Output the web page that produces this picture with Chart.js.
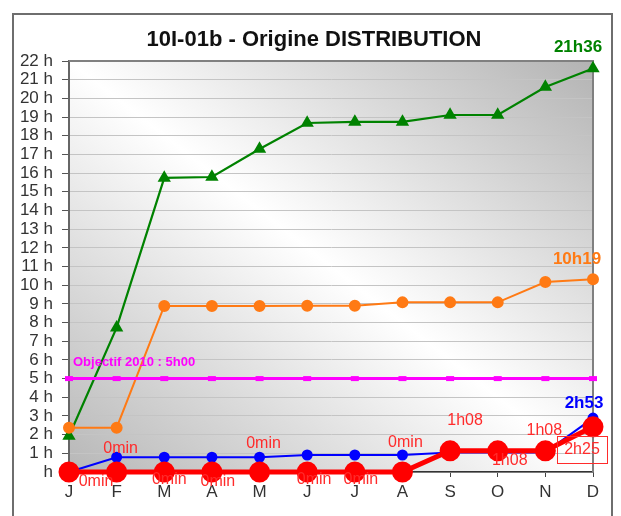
<!DOCTYPE html>
<html>
<head>
<meta charset="utf-8">
<script src="https://cdn.jsdelivr.net/npm/chart.js@4.4.1/dist/chart.umd.min.js"></script>
<style>
  html, body { margin: 0; padding: 0; background: #ffffff; }
  #wrap { width: 621px; height: 516px; }
</style>
</head>
<body>
<div id="wrap"><canvas id="c" width="621" height="516"></canvas></div>
<script>
// ---- data ----
const months = ['J', 'F', 'M', 'A', 'M', 'J', 'J', 'A', 'S', 'O', 'N', 'D'];
const hourTicks = [' h', '1 h', '2 h', '3 h', '4 h', '5 h', '6 h', '7 h', '8 h', '9 h', '10 h', '11 h',
  '12 h', '13 h', '14 h', '15 h', '16 h', '17 h', '18 h', '19 h', '20 h', '21 h', '22 h'];
const distribution = [0, 0, 0, 0, 0, 0, 0, 0, 1.134, 1.134, 1.134, 2.417];
const totalGreen = [1.93, 7.73, 15.74, 15.79, 17.29, 18.68, 18.74, 18.74, 19.11, 19.11, 20.61, 21.6];
const totalOrange = [2.37, 2.37, 8.89, 8.89, 8.89, 8.9, 8.9, 9.08, 9.08, 9.08, 10.17, 10.317];
const totalBlue = [0, 0.79, 0.79, 0.79, 0.79, 0.91, 0.91, 0.91, 1.05, 1.05, 1.05, 2.884];
const objectif = [5, 5, 5, 5, 5, 5, 5, 5, 5, 5, 5, 5];
const objectifText = 'Objectif 2010 : ';
const chartTitle = '10I-01b - Origine DISTRIBUTION';

const FONT = "'Liberation Sans', Arial, sans-serif";

function fmtHours(v) {
  if (v === 0) return '0min';
  const h = Math.floor(v);
  const m = Math.round((v - h) * 60);
  return h + 'h' + (m < 10 ? '0' + m : m);
}

const frameAndBackground = {
  id: 'frameAndBackground',
  beforeDraw(chart) {
    const ctx = chart.ctx;
    const a = chart.chartArea;
    ctx.save();
    ctx.fillStyle = '#ffffff';
    ctx.fillRect(0, 0, chart.width, chart.height);
    // outer border
    ctx.strokeStyle = '#6e6e6e';
    ctx.lineWidth = 2;
    ctx.strokeRect(13, 14, 599, 530);
    // title
    ctx.fillStyle = '#111111';
    ctx.font = 'bold 22px ' + FONT;
    ctx.textAlign = 'center';
    ctx.textBaseline = 'middle';
    ctx.fillText(chartTitle, 314, 40);
    // diagonal gradient of the plot area
    const cx = (a.left + a.right) / 2, cy = (a.top + a.bottom) / 2;
    const w = a.right - a.left, h = a.bottom - a.top;
    const nx = h, ny = -w;
    const n2 = nx * nx + ny * ny;
    const t = ((a.left - cx) * nx + (a.bottom - cy) * ny) / n2;
    const g = ctx.createLinearGradient(cx + t * nx, cy + t * ny, cx - t * nx, cy - t * ny);
    g.addColorStop(0, '#b7b7b7');
    g.addColorStop(0.5, '#ffffff');
    g.addColorStop(1, '#b3b3b3');
    ctx.fillStyle = g;
    ctx.fillRect(a.left, a.top, w, h);
    ctx.restore();
  },
  beforeDatasetsDraw(chart) {
    const ctx = chart.ctx;
    const a = chart.chartArea;
    ctx.save();
    ctx.strokeStyle = '#808080';
    ctx.lineWidth = 2;
    ctx.beginPath();
    ctx.moveTo(a.left, a.top);
    ctx.lineTo(a.right, a.top);
    ctx.lineTo(a.right, a.bottom);
    ctx.stroke();
    ctx.restore();
  }
};

const valueLabels = {
  id: 'valueLabels',
  afterDatasetsDraw(chart, args, opts) {
    const ctx = chart.ctx;
    ctx.save();
    ctx.textBaseline = 'middle';
    (opts.sets || []).forEach(set => {
      const meta = chart.getDatasetMeta(set.dataset);
      const data = chart.data.datasets[set.dataset].data;
      ctx.font = set.font;
      ctx.fillStyle = set.color;
      ctx.textAlign = set.align || 'center';
      set.items.forEach(it => {
        const el = meta.data[it.index];
        const x = el.x + it.dx, y = el.y + it.dy;
        const txt = (set.prefix || '') + fmtHours(data[it.index]);
        ctx.fillText(txt, x, y);
        if (it.box) {
          const tw = ctx.measureText(txt).width;
          ctx.strokeStyle = set.color;
          ctx.lineWidth = 1;
          ctx.strokeRect(Math.round(x - tw / 2 - 7) + 0.5, Math.round(y - 14) + 0.5, Math.round(tw + 14), 27);
        }
      });
    });
    ctx.restore();
  }
};

const ctx = document.getElementById('c').getContext('2d');
new Chart(ctx, {
  type: 'line',
  data: {
    labels: months,
    datasets: [
      {
        label: 'Distribution',
        data: distribution,
        borderColor: '#ff0000',
        backgroundColor: '#ff0000',
        borderWidth: 5,
        pointRadius: 8,
        pointStyle: 'circle',
        tension: 0,
        clip: false
      },
      {
        label: 'Bleu',
        data: totalBlue,
        borderColor: '#0000ff',
        backgroundColor: '#0000ff',
        borderWidth: 2,
        pointRadius: 4.5,
        pointStyle: 'circle',
        tension: 0,
        clip: false
      },
      {
        label: 'Objectif',
        data: objectif,
        borderColor: '#ff00ff',
        backgroundColor: '#ff00ff',
        borderWidth: 3,
        pointStyle: 'line',
        pointRadius: 4,
        pointBorderWidth: 5,
        tension: 0,
        clip: false
      },
      {
        label: 'Orange',
        data: totalOrange,
        borderColor: '#ff7a14',
        backgroundColor: '#ff7a14',
        borderWidth: 2,
        pointRadius: 5,
        pointStyle: 'circle',
        tension: 0,
        clip: false
      },
      {
        label: 'Vert',
        data: totalGreen,
        borderColor: '#008200',
        backgroundColor: '#008200',
        borderWidth: 2.2,
        pointRadius: 5.5,
        pointStyle: 'triangle',
        tension: 0,
        clip: false
      }
    ]
  },
  options: {
    responsive: false,
    animation: false,
    devicePixelRatio: 1,
    events: [],
    layout: { padding: { left: 0, right: 28, top: 61, bottom: 0 } },
    scales: {
      x: {
        type: 'category',
        offset: false,
        afterFit(scale) { scale.height = 44; },
        grid: { drawOnChartArea: false, drawTicks: true, tickLength: 5, tickColor: '#444', tickWidth: 1 },
        border: { display: true, color: '#333333', width: 1.5 },
        ticks: { color: '#333333', font: { family: FONT, size: 17 }, padding: 5, autoSkip: false, maxRotation: 0 }
      },
      y: {
        min: 0,
        max: 22,
        afterFit(scale) { scale.width = 69; },
        grid: { color: '#c4c4c4', lineWidth: 1, tickLength: 7, tickColor: '#555555', tickWidth: 1 },
        border: { display: true, color: '#666666', width: 2 },
        ticks: {
          stepSize: 1,
          autoSkip: false,
          color: '#333333',
          padding: 9,
          font: { family: FONT, size: 17 },
          callback: (v) => hourTicks[v]
        }
      }
    },
    plugins: {
      legend: { display: false },
      tooltip: { enabled: false },
      title: { display: false },
      valueLabels: {
        sets: [
          {
            dataset: 0, font: '16px ' + FONT, color: '#ff2b2b',
            items: [
              { index: 0, dx: 27, dy: 10 }, { index: 1, dx: 4, dy: -23 },
              { index: 2, dx: 5, dy: 8 }, { index: 3, dx: 6, dy: 10 },
              { index: 4, dx: 4, dy: -28 }, { index: 5, dx: 7, dy: 8 },
              { index: 6, dx: 6, dy: 8 }, { index: 7, dx: 3, dy: -29 },
              { index: 8, dx: 15, dy: -30 }, { index: 9, dx: 12, dy: 10 },
              { index: 10, dx: -1, dy: -20 }, { index: 11, dx: -11, dy: 23, box: true }
            ]
          },
          { dataset: 4, font: 'bold 17px ' + FONT, color: '#008200', items: [{ index: 11, dx: -15, dy: -21 }] },
          { dataset: 3, font: 'bold 17px ' + FONT, color: '#ff7a14', items: [{ index: 11, dx: -16, dy: -20 }] },
          { dataset: 1, font: 'bold 17px ' + FONT, color: '#0000ff', items: [{ index: 11, dx: -9, dy: -15 }] },
          { dataset: 2, font: 'bold 13px ' + FONT, color: '#ff00ff', align: 'left', prefix: objectifText,
            items: [{ index: 0, dx: 4, dy: -16 }] }
        ]
      }
    }
  },
  plugins: [frameAndBackground, valueLabels]
});
</script>
</body>
</html>
